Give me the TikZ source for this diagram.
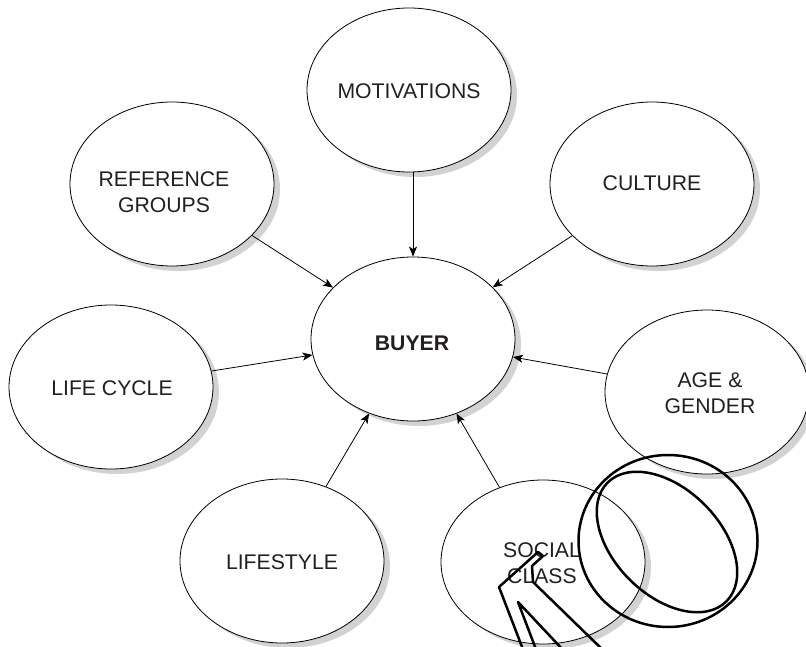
\documentclass[tikz,border=0pt]{standalone}
\usepackage{fontspec}
\setmainfont{Liberation Sans}
\usetikzlibrary{shapes.geometric,shadows,arrows.meta}
\definecolor{shgray}{HTML}{D2D2D2}
\definecolor{txt}{HTML}{231F20}
\begin{document}
\begin{tikzpicture}[x=1pt,y=-1pt,
  bub/.style={ellipse, draw=black, line width=0.8pt, fill=white,
    minimum width=204pt, minimum height=164pt, inner sep=0pt,
    drop shadow={shadow xshift=6pt, shadow yshift=-5pt, fill=shgray, opacity=1}},
  lbl/.style={font=\fontsize{21.2}{26.5}\selectfont, text=txt, align=center, inner sep=0pt},
  arr/.style={line width=0.8pt, -{Stealth[length=10pt,width=8pt,inset=2.5pt]}},
  scrib/.style={line width=2.5pt, line join=round, draw=black}
]
\useasboundingbox (0,0) rectangle (806,647);
% ellipses
\node[bub] (mot) at (409,90) {};
\node[bub] (ref) at (172,184) {};
\node[bub] (cul) at (652,184) {};
\node[bub] (lif) at (111,387) {};
\node[bub] (buy) at (413,339) {};
\node[bub] (age) at (707,392) {};
\node[bub] (lst) at (282,561) {};
\node[bub] (soc) at (543,562) {};
% labels
\node[lbl] (motT) at (409,91) {MOTIVATIONS};
\node[lbl] (refT) at (164,192) {REFERENCE\\GROUPS};
\node[lbl] (culT) at (652,183.5) {CULTURE};
\node[lbl] (lifT) at (112,388) {LIFE CYCLE};
\node[lbl, font=\fontsize{21.2}{26.5}\selectfont\bfseries] (buyT) at (412,343.5) {BUYER};
\node[lbl] (ageT) at (710,393) {AGE \&\\GENDER};
\node[lbl] (lstT) at (282,562) {LIFESTYLE};
\node[lbl] (socT) at (542,563) {SOCIAL\\CLASS};
% connectors
\draw[arr] (buy.north |- mot.south) -- (buy.north);
\draw[arr] (ref) -- (buy);
\draw[arr] (cul) -- (buy);
\draw[arr] (lif) -- (buy);
\draw[arr] (age) -- (buy);
\draw[arr] (lst) -- (buy);
\draw[arr] (soc) -- (buy);
% overlay strokes
\draw[scrib] (668,541) ellipse [x radius=89.5, y radius=86];
\draw[scrib, rotate around={-45:(667,542)}] (667,542) ellipse [x radius=84, y radius=53];
\draw[scrib] (524,652) -- (499,587) -- (538,552) -- (543,556) -- (532,566) -- (533,582) -- (605,652);
\draw[scrib] (537,652) -- (518,602) -- (565,652);
\end{tikzpicture}
\end{document}
